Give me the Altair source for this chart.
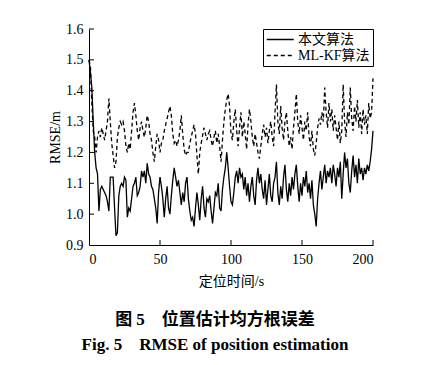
import altair as alt
import pandas as pd

t = list(range(201))

ours = [1.50, 1.46, 1.41, 1.30, 1.20, 1.15, 1.13, 1.01, 1.08, 1.09,
        1.08, 1.07, 1.06, 1.04, 1.01, 1.12, 1.12, 1.12, 1.02, 0.93,
        0.94, 1.06, 1.09, 1.10, 1.09, 1.12, 1.11, 0.99, 1.02, 1.01,
        1.05, 1.09, 1.10, 1.12, 1.06, 1.07, 1.09, 1.14, 1.12, 1.14,
        1.10, 1.165, 1.13, 1.12, 1.09, 1.08, 1.05, 1.02, 0.97, 1.07,
        1.12, 1.09, 1.05, 0.99, 1.05, 1.09, 1.02, 1.00, 1.06, 1.11,
        1.15, 1.12, 1.09, 1.11, 1.07, 1.03, 1.07, 1.04, 1.10, 1.12,
        1.05, 1.01, 0.98, 0.99, 0.96, 1.02, 1.07, 1.03, 0.98, 1.05,
        1.09, 1.02, 0.99, 1.05, 1.04, 1.06, 1.01, 0.97, 1.02, 1.07,
        1.06, 1.10, 1.02, 1.01, 1.08, 1.12, 1.15, 1.20, 1.15, 1.09,
        1.04, 1.03, 1.07, 1.12, 1.14, 1.10, 1.15, 1.12, 1.13, 1.08,
        1.12, 1.06, 1.10, 1.04, 1.09, 1.12, 1.06, 1.03, 1.11, 1.15,
        1.10, 1.13, 1.08, 1.05, 1.11, 1.03, 1.08, 1.13, 1.06, 1.04,
        1.10, 1.12, 1.17, 1.07, 1.03, 1.09, 1.05, 1.12, 1.16, 1.08,
        1.04, 1.10, 1.06, 1.12, 1.08, 1.13, 1.16, 1.09, 1.04, 1.10,
        1.06, 1.12, 1.09, 1.14, 1.07, 1.10, 1.05, 1.11, 1.03, 1.00,
        0.96, 1.05, 1.10, 1.14, 1.08, 1.12, 1.16, 1.10, 1.14, 1.12,
        1.15, 1.10, 1.16, 1.13, 1.09, 1.15, 1.12, 1.17, 1.05, 1.13,
        1.20, 1.15, 1.18, 1.10, 1.07, 1.14, 1.19, 1.12, 1.16, 1.10,
        1.18, 1.13, 1.15, 1.11, 1.15, 1.13, 1.16, 1.14, 1.17, 1.21,
        1.27]

mlkf = [1.50, 1.48, 1.36, 1.27, 1.25, 1.20, 1.25, 1.27, 1.25, 1.28,
        1.26, 1.24, 1.27, 1.30, 1.375, 1.30, 1.23, 1.19, 1.15, 1.17,
        1.25, 1.28, 1.30, 1.29, 1.30, 1.27, 1.22, 1.20, 1.23, 1.21,
        1.27, 1.33, 1.36, 1.32, 1.27, 1.24, 1.28, 1.30, 1.27, 1.25,
        1.28, 1.32, 1.30, 1.26, 1.24, 1.20, 1.17, 1.22, 1.26, 1.24,
        1.20, 1.23, 1.24, 1.27, 1.29, 1.31, 1.33, 1.35, 1.32, 1.26,
        1.23, 1.24, 1.22, 1.24, 1.27, 1.32, 1.26, 1.21, 1.19, 1.20,
        1.20, 1.23, 1.25, 1.27, 1.29, 1.26, 1.19, 1.13, 1.20, 1.23,
        1.255, 1.28, 1.26, 1.24, 1.26, 1.27, 1.24, 1.22, 1.25, 1.27,
        1.23, 1.26, 1.22, 1.17, 1.24, 1.30, 1.34, 1.37, 1.39, 1.35,
        1.26, 1.24, 1.30, 1.34, 1.27, 1.22, 1.28, 1.33, 1.25, 1.30,
        1.26, 1.21, 1.29, 1.34, 1.30, 1.25, 1.22, 1.26, 1.23, 1.20,
        1.18, 1.22, 1.26, 1.29, 1.25, 1.28, 1.23, 1.27, 1.30, 1.25,
        1.22, 1.33, 1.42, 1.30, 1.26, 1.35, 1.28, 1.24, 1.30, 1.33,
        1.27, 1.22, 1.25, 1.21, 1.28, 1.33, 1.39, 1.30, 1.26, 1.32,
        1.28, 1.24, 1.30, 1.27, 1.33, 1.25, 1.22, 1.27, 1.21, 1.19,
        1.23, 1.28, 1.31, 1.29, 1.33, 1.30, 1.41, 1.33, 1.28, 1.36,
        1.30, 1.34, 1.27, 1.32, 1.28, 1.24, 1.30, 1.23, 1.27, 1.42,
        1.30, 1.25, 1.33, 1.29, 1.41, 1.31, 1.27, 1.35, 1.30, 1.37,
        1.28, 1.33, 1.26, 1.34, 1.29, 1.32, 1.26, 1.36, 1.31, 1.33,
        1.44]

series_names = ["本文算法", "ML-KF算法"]
y_ticks = [0.9, 1.0, 1.1, 1.2, 1.3, 1.4, 1.5, 1.6]
x_ticks = [0, 50, 100, 150, 200]

SERIF = "Liberation Serif"
MIXED = "Liberation Serif, Noto Sans CJK SC"

df = pd.DataFrame({
    "t": t + t,
    "v": ours + mlkf,
    "s": [series_names[0]] * len(t) + [series_names[1]] * len(t),
})


def x_enc():
    return alt.X("t:Q", scale=alt.Scale(domain=[0, 200], nice=False),
                 axis=alt.Axis(values=x_ticks, title="定位时间/s", titleFont=MIXED,
                               labelPadding=7, titlePadding=8))


def y_enc():
    return alt.Y("v:Q", scale=alt.Scale(domain=[0.9, 1.6], nice=False, zero=False),
                 axis=alt.Axis(values=y_ticks, format=".1f", title="RMSE/m",
                               labelPadding=6, titlePadding=3))


lines = alt.Chart(df).mark_line(strokeWidth=1.3, color="black").encode(
    x=x_enc(),
    y=y_enc(),
    strokeDash=alt.StrokeDash(
        "s:N",
        scale=alt.Scale(domain=series_names, range=[[1, 0], [4, 3]]),
        legend=alt.Legend(
            title=None, orient="top-right", offset=0, strokeColor="black",
            fillColor="white",
            padding=3, labelFont=MIXED, labelFontSize=14, labelColor="black",
            symbolType="M-1,0H3", symbolSize=182, symbolStrokeWidth=1.3,
            symbolStrokeColor="black", rowPadding=1, labelOffset=17,
        ),
    ),
)

ytick_df = pd.DataFrame({"v": y_ticks[1:]})
xtick_df = pd.DataFrame({"t": x_ticks[1:]})

yticks = alt.Chart(ytick_df).mark_rule(color="black", strokeWidth=1).encode(
    y=y_enc(), x=alt.value(0), x2=alt.value(5))
xticks = alt.Chart(xtick_df).mark_rule(color="black", strokeWidth=1).encode(
    x=x_enc(), y=alt.value(216), y2=alt.value(211))

chart = alt.layer(lines, yticks, xticks).properties(
    width=284,
    height=216,
    autosize=alt.AutoSizeParams(type="none"),
    padding={"left": 81, "top": 21, "right": 50, "bottom": 112},
    title=alt.TitleParams(
        text="图 5　位置估计均方根误差",
        subtitle="Fig. 5　RMSE of position estimation",
        orient="bottom", anchor="middle", frame="group",
        font=MIXED, fontSize=17, fontWeight="bold", color="black",
        subtitleFont=SERIF, subtitleFontSize=17, subtitleFontWeight="bold",
        subtitleColor="black", offset=24, subtitlePadding=8, dx=-16,
    ),
).configure_view(stroke=None).configure_axis(
    grid=False, tickSize=0, domainColor="black", domainWidth=1,
    labelFont=SERIF, labelFontSize=14, labelColor="black",
    titleFont=SERIF, titleFontSize=14, titleFontWeight="normal", titleColor="black",
)

chart.save("out.html", embed_options={"renderer": "svg", "actions": False})
